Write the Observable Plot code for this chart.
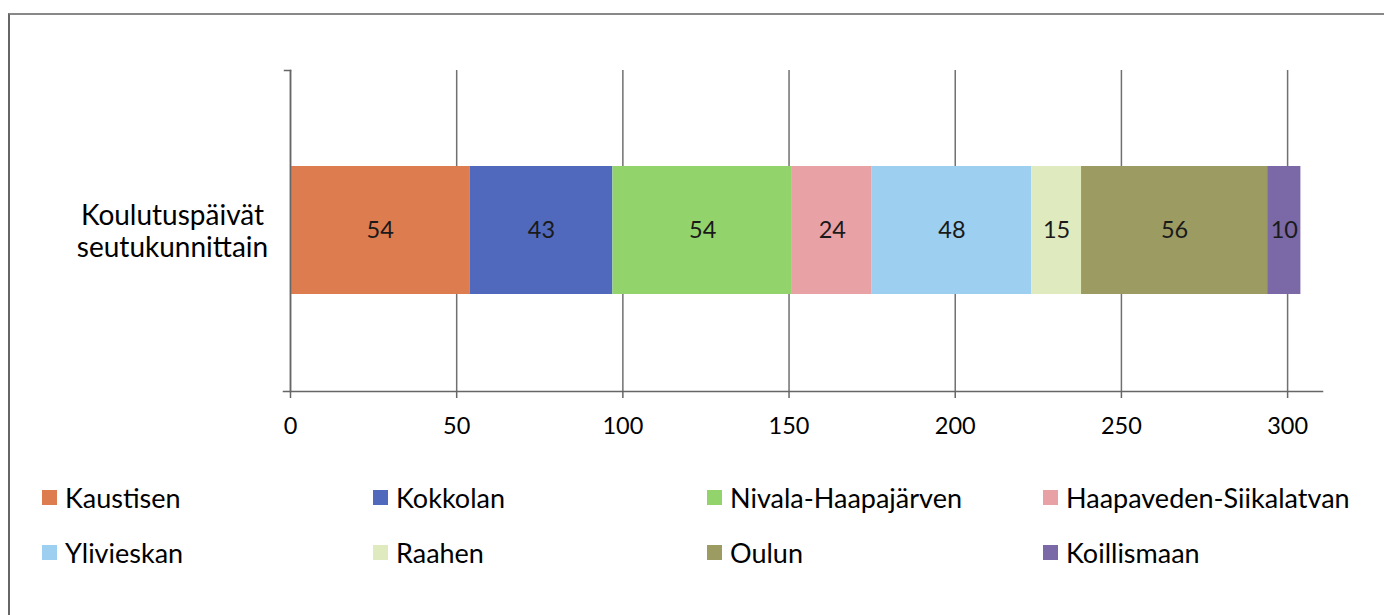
<!DOCTYPE html>
<html><head><meta charset="utf-8">
<script src="https://cdn.jsdelivr.net/npm/d3@7"></script>
<script src="https://cdn.jsdelivr.net/npm/@observablehq/plot@0.6"></script>
<style>
html,body{margin:0;padding:0;background:#fff;}
#wrap{position:relative;width:1384px;height:615px;overflow:hidden;font-family:Lato,"Open Sans",sans-serif;}
#border{position:absolute;left:8px;top:13px;width:1400px;height:700px;border-left:2px solid #666;border-top:2px solid #888;}
#chart{position:absolute;left:0;top:0;}
#legend{position:absolute;left:0;top:0;width:1384px;height:615px;pointer-events:none;}
.item{position:absolute;display:flex;align-items:center;font-size:27px;color:#000;white-space:nowrap;}
.sw{width:15px;height:15px;margin-right:8px;}
</style></head>
<body><div id="wrap"><div id="border"></div><div id="chart"></div><div id="legend"></div></div>
<script>
const category = "Koulutuspäivät seutukunnittain";
const regions = ["Kaustisen","Kokkolan","Nivala-Haapajärven","Haapaveden-Siikalatvan","Ylivieskan","Raahen","Oulun","Koillismaan"];
const values = [54,43,54,24,48,15,56,10];
const colors = ["#dd7c4e","#5069bd","#93d36b","#e8a1a4","#9ccff0","#dfeabf","#9c9c62","#7b68a6"];
const xTicks = [0,50,100,150,200,250,300];

const data = regions.map((r,i)=>({cat:category, region:r, value:values[i]}));

const W = 1384, H = 615;
const mL = 290, mR = 62, mT = 70, mB = 224;

const plot = Plot.plot({
  width: W, height: H,
  marginLeft: mL, marginRight: mR, marginTop: mT, marginBottom: mB,
  style: {fontFamily: "Lato, 'Open Sans', sans-serif", background: "transparent"},
  x: {domain: [0, 310.5], ticks: xTicks},
  y: {domain: [category], padding: 0.427},
  color: {domain: regions, range: colors},
  marks: [
    Plot.gridX(xTicks, {stroke: "#707070", strokeOpacity: 1, strokeWidth: 1.5}),
    Plot.barX(data, Plot.stackX({x: "value", y: "cat", fill: "region", order: null})),
    Plot.text(data, Plot.stackX({x: "value", y: "cat", text: d => String(d.value), order: null, fontSize: 23.5, fill: "#1a1a1a"})),
    Plot.frame({anchor: "left", stroke: "#666", strokeWidth: 1.5}),
    Plot.frame({anchor: "bottom", stroke: "#666", strokeWidth: 1.5, insetLeft: -7}),
    Plot.frame({anchor: "top", stroke: "#666", strokeWidth: 1.5, insetLeft: -6, insetRight: W - mL - mR}),
    Plot.axisX({ticks: xTicks, tickSize: 7, tickPadding: 19, fontSize: 23.5, stroke: "#666", strokeWidth: 1.5, color: "#000", label: null}),
    Plot.axisY({tickSize: 0, tickPadding: 0, textAnchor: "middle", dx: -118, fontSize: 28, lineHeight: 1.15, color: "#000", label: null,
      tickFormat: d => d.replace(" ", "\n")})
  ]
});
document.getElementById("chart").appendChild(plot);

// legend
const legendCols = [42, 373, 707, 1043];
const legendRows = [497, 552];
const leg = document.getElementById("legend");
regions.forEach((r,i)=>{
  const el = document.createElement("div");
  el.className = "item";
  el.style.left = legendCols[i%4] + "px";
  el.style.top = (legendRows[Math.floor(i/4)] - 17) + "px";
  el.style.height = "34px";
  el.innerHTML = `<span class="sw" style="background:${colors[i]}"></span><span>${r}</span>`;
  leg.appendChild(el);
});
</script></body></html>
